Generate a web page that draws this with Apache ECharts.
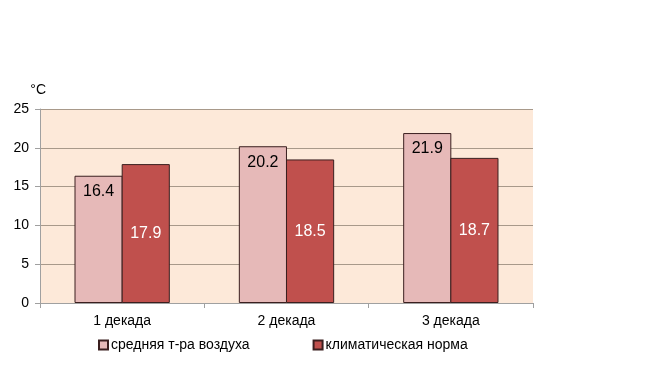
<!DOCTYPE html>
<html><head><meta charset="utf-8">
<script src="https://cdn.jsdelivr.net/npm/echarts@6/dist/echarts.min.js"></script>
<style>html,body{margin:0;padding:0;background:#fff}#c{width:649px;height:365px}</style>
</head><body><div id="c"></div>
<script>
const categories = ['1 декада', '2 декада', '3 декада'];
const seriesNames = ['средняя т-ра воздуха', 'климатическая норма'];
const avgTemp = [16.4, 20.2, 21.9];
const climateNorm = [17.9, 18.5, 18.7];
const yTicks = [0, 5, 10, 15, 20, 25];
const unitLabel = '°C';

const font = 'Liberation Sans, Arial, sans-serif';
const chart = echarts.init(document.getElementById('c'), null, {renderer: 'canvas'});
chart.setOption({
  animation: false,
  grid: {left: 40, right: 116, top: 109, bottom: 62, show: true, backgroundColor: '#FDE9D9', borderWidth: 0},
  legend: {
    bottom: 8, left: 93, itemGap: 63,
    itemWidth: 9, itemHeight: 9, icon: 'rect',
    textStyle: {fontFamily: font, fontSize: 14, color: '#000', padding: [0, 0, 0, -2]},
    data: seriesNames
  },
  xAxis: {
    type: 'category', data: categories,
    axisLine: {lineStyle: {color: '#A0A0A0'}},
    axisTick: {show: true, alignWithLabel: false, length: 5, lineStyle: {color: '#A0A0A0'}},
    axisLabel: {fontFamily: font, fontSize: 14, color: '#000', margin: 11}
  },
  yAxis: {
    type: 'value', min: yTicks[0], max: yTicks[yTicks.length - 1], interval: 5,
    name: unitLabel, nameLocation: 'end', nameGap: 12,
    nameTextStyle: {fontFamily: font, fontSize: 14, color: '#000', align: 'right', padding: [0, -6, 0, 0]},
    axisLine: {show: true, lineStyle: {color: '#A0A0A0'}},
    axisTick: {show: true, length: 5, lineStyle: {color: '#A0A0A0'}},
    axisLabel: {fontFamily: font, fontSize: 14, color: '#000', margin: 11},
    splitLine: {lineStyle: {color: '#A8998A'}}
  },
  series: [
    {
      name: seriesNames[0], type: 'bar', data: avgTemp,
      barGap: '-2%', barCategoryGap: '42%',
      itemStyle: {color: '#E6B9B8', borderColor: '#3A1F1F', borderWidth: 1},
      label: {show: true, position: 'insideTop', distance: 8, fontFamily: font, fontSize: 16, color: '#000', formatter: p => p.value.toFixed(1)}
    },
    {
      name: seriesNames[1], type: 'bar', data: climateNorm,
      itemStyle: {color: '#C0504D', borderColor: '#3A1F1F', borderWidth: 1},
      label: {show: true, position: 'inside', fontFamily: font, fontSize: 16, color: '#fff', formatter: p => p.value.toFixed(1)}
    }
  ]
});
</script></body></html>
